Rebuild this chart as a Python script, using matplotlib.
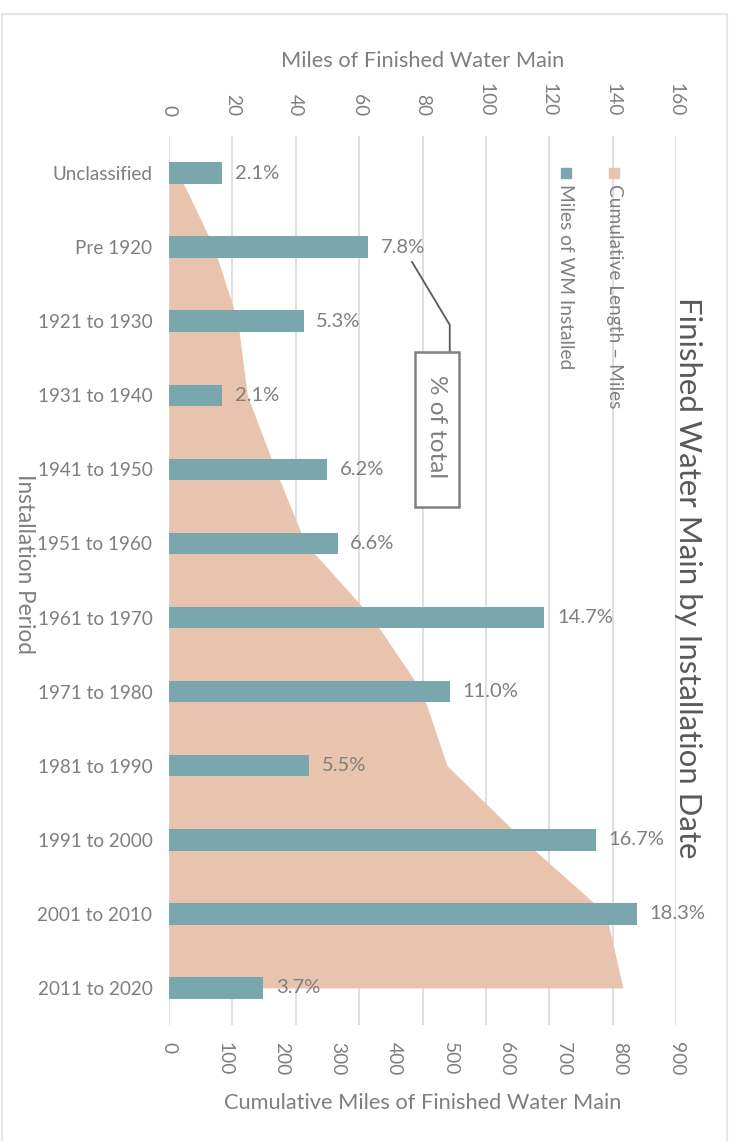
import numpy as np
import matplotlib
matplotlib.use('Agg')
import matplotlib.pyplot as plt
from matplotlib.patches import Rectangle

plt.rcParams['font.family'] = ['Lato', 'DejaVu Sans']

periods = ['Unclassified', 'Pre 1920', '1921 to 1930', '1931 to 1940', '1941 to 1950',
           '1951 to 1960', '1961 to 1970', '1971 to 1980', '1981 to 1990',
           '1991 to 2000', '2001 to 2010', '2011 to 2020']
miles = [16.8, 62.8, 42.5, 16.8, 50.0, 53.2, 118.5, 88.7, 44.3, 134.8, 147.6, 29.8]
pct_labels = ['2.1%', '7.8%', '5.3%', '2.1%', '6.2%', '6.6%', '14.7%', '11.0%',
              '5.5%', '16.7%', '18.3%', '3.7%']
cum_miles = np.cumsum(miles)

top_ticks = [0, 20, 40, 60, 80, 100, 120, 140, 160]
bottom_ticks = [0, 100, 200, 300, 400, 500, 600, 700, 800, 900]

teal = '#7aa6ad'
peach = '#e8c3ad'
txt = '#7f7f7f'
grid = '#d9d9d9'

fig = plt.figure(figsize=(7.34, 11.41), dpi=100)
fig.patches.append(Rectangle((2/734, -0.01), 725/734, 1.01 - 14/1141, transform=fig.transFigure,
                             fill=False, edgecolor='#e6e6e6', lw=1.5))

ax = fig.add_axes([169/734, 1 - 1025/1141, 507/734, 889/1141])
y = np.arange(len(periods))

# cumulative area on bottom axis
ax.set_xlim(0, 900)
ax.set_ylim(len(periods) - 0.5, -0.5)
for t in top_ticks:
    ax.axvline(t * 900 / 160, color=grid, lw=1.2, zorder=0)
ax.fill_betweenx(y, 0, cum_miles, color=peach, lw=0, zorder=1)
ax.set_xticks(bottom_ticks)
ax.set_xticklabels([str(t) for t in bottom_ticks], rotation=-90, color=txt, fontsize=13.8)
ax.tick_params(axis='x', length=0, pad=12)
ax.set_xlabel('Cumulative Miles of Finished Water Main', color=txt, fontsize=15.7, labelpad=13)
ax.set_yticks(y)
ax.set_yticklabels(periods, color=txt, fontsize=13.6)
ax.tick_params(axis='y', length=0, pad=12)
ax.set_ylabel('Installation Period', color=txt, fontsize=16.3, rotation=-90, va='center')
ax.yaxis.set_label_coords(-0.285, 0.518)
for s in ax.spines.values():
    s.set_visible(False)

# bars on top axis
ax2 = ax.twiny()
ax2.set_xlim(0, 160)
ax2.barh(y, miles, height=0.29, color=teal, zorder=3)
for yi, v, lab in zip(y, miles, pct_labels):
    ax2.text(v + 4, yi, lab, va='center', ha='left', color=txt, fontsize=14.5, zorder=4)
ax2.set_xticks(top_ticks)
ax2.set_xticklabels([str(t) for t in top_ticks], rotation=-90, color=txt, fontsize=13.8)
ax2.tick_params(axis='x', length=0, pad=14)
ax2.set_xlabel('Miles of Finished Water Main', color=txt, fontsize=15.7, labelpad=12)
for s in ax2.spines.values():
    s.set_visible(False)

# "% of total" callout
ax2.plot([76.7, 88.6, 88.6], [1.2, 2.05, 2.42], color='#595959', lw=1.3, zorder=5)
ax2.add_patch(Rectangle((77.6, 2.42), 13.9, 2.09, fc='white', ec='#7f7f7f', lw=1.8, zorder=5))
ax2.text(84.55, 3.42, '% of total', rotation=-90, ha='center', va='center', color=txt,
         fontsize=17.5, zorder=6)

# legend drawn rotated
for xp, col, lab in [(566, teal, 'Miles of WM Installed'), (614, peach, 'Cumulative Length – Miles')]:
    fig.patches.append(Rectangle(((xp - 5) / 734, 1 - 178 / 1141), 10 / 734, 10 / 1141,
                                 transform=fig.transFigure, color=col))
    fig.text(xp / 734, 1 - 184 / 1141, lab, rotation=-90, ha='center', va='top',
             color=txt, fontsize=13.8)

fig.text(688 / 734, 1 - 578 / 1141, 'Finished Water Main by Installation Date', rotation=-90,
         ha='center', va='center', color='#595959', fontsize=22.4)

fig.savefig('out.png', dpi=100)
